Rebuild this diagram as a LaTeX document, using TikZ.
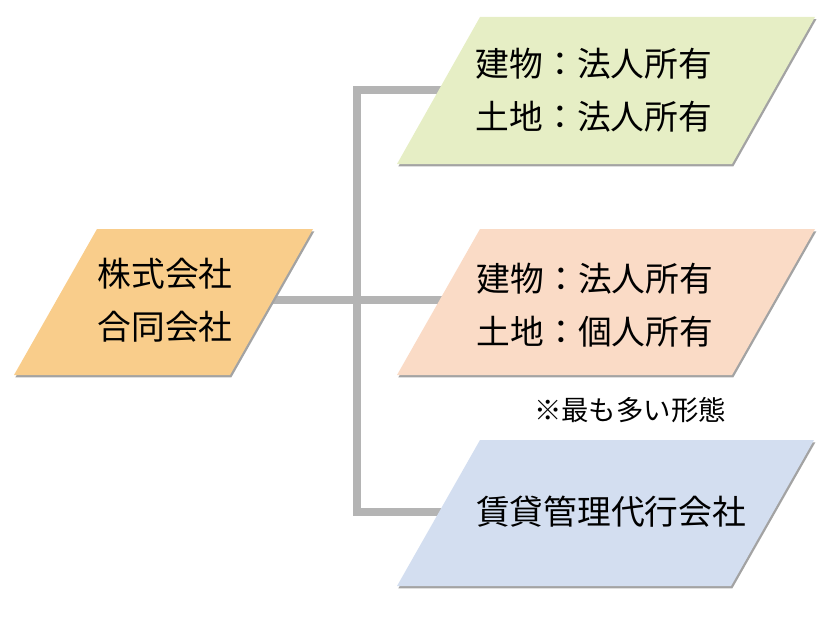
\documentclass[tikz,border=0pt]{standalone}
\usepackage{fontspec}
\setmainfont{Noto Sans CJK JP}
\usetikzlibrary{shadows,backgrounds}

\definecolor{kaishaFill}{HTML}{F9CD8B}
\definecolor{hojinFill}{HTML}{E6EEC5}
\definecolor{kojinFill}{HTML}{FADBC6}
\definecolor{kanriFill}{HTML}{D3DEF0}
\definecolor{branchGray}{HTML}{B4B4B4}
\definecolor{shadowGray}{HTML}{A3A3A3}

\begin{document}
\begin{tikzpicture}[x=0.025cm, y=-0.025cm,
        branch/.style={line width=0.2cm, color=branchGray},
        pgram/.style={drop shadow={shadow xshift=1pt, shadow yshift=-1.6pt, opacity=1, fill=shadowGray}},
        boxtext/.style={align=center, inner sep=0pt, font=\fontsize{24}{38}\selectfont},
        note/.style={inner sep=0pt, font=\fontsize{19.5}{24}\selectfont}]
    \useasboundingbox (0,0) rectangle (840,624);

    % parallelograms: top-left corner, top width, height
    \foreach \xa/\ya/\w/\h/\col in {97/229/216/146/kaishaFill, 480/17/335/147/hojinFill,
                                    480/229/335/146/kojinFill, 480/440/334/146/kanriFill}
        {
            \path[pgram, fill=\col] (\xa,\ya) -- ++(\w,0) -- ++(-83,\h) -- ++(-\w,0) -- cycle;
        }

    \node[boxtext] (kaisha) at (165,300) {株式会社\\合同会社};
    \node[boxtext] (hojin) at (594,90) {建物：法人所有\\土地：法人所有};
    \node[boxtext] (kojin) at (595,305) {建物：法人所有\\土地：個人所有};
    \node[boxtext] (kanri) at (611,512) {賃貸管理代行会社};
    \node[note] (tayou) at (630,410) {※最も多い形態};

    \coordinate (trunk) at (357,0);

    \begin{scope}[on background layer]
        \draw[branch] (kaisha) -- (kaisha -| kojin);
        \draw[branch] (hojin) -- (hojin -| trunk) -- (kanri -| trunk) -- (kanri);
    \end{scope}
\end{tikzpicture}
\end{document}
